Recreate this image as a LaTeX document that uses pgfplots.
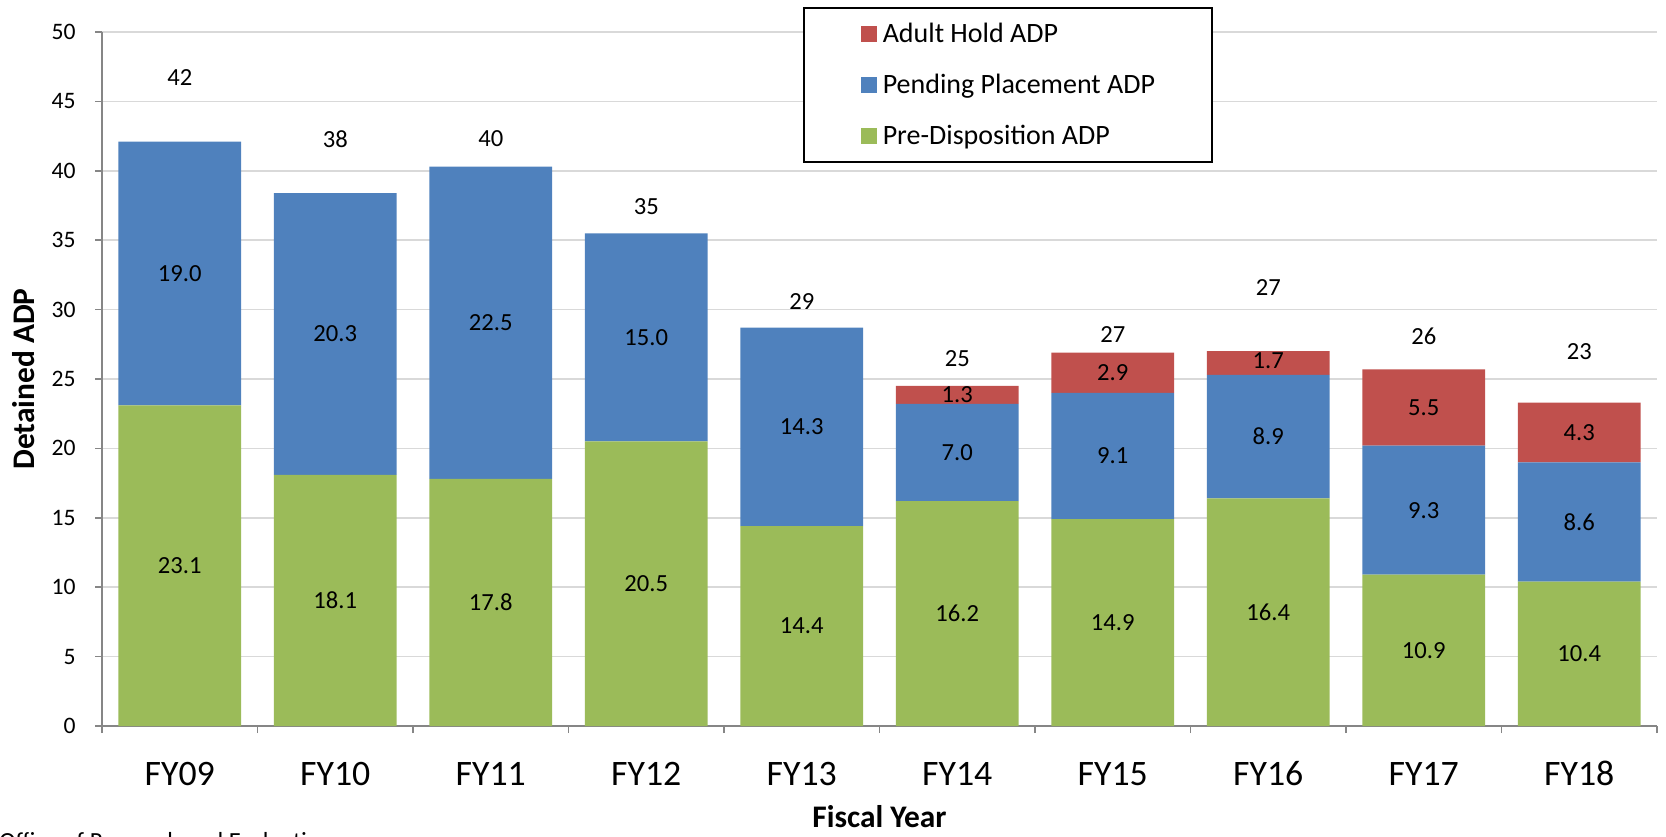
\documentclass[border=0pt]{standalone}
\usepackage{pgfplots}
\pgfplotsset{compat=1.18}
\usepackage{pgfplotstable}
\usepackage{fontspec}
\setmainfont{Carlito}
\definecolor{cgreen}{HTML}{9BBB59}
\definecolor{cblue}{HTML}{4F81BD}
\definecolor{cred}{HTML}{C0504D}
\definecolor{axgray}{HTML}{868686}
\definecolor{grgray}{HTML}{D9D9D9}

\pgfplotstableread{
x pre pend adult
0 23.1 19.0 0
1 18.1 20.3 0
2 17.8 22.5 0
3 20.5 15.0 0
4 14.4 14.3 0
5 16.2 7.0 1.3
6 14.9 9.1 2.9
7 16.4 8.9 1.7
8 10.9 9.3 5.5
9 10.4 8.6 4.3
}\datatable

\pgfplotstableread{
x y lab
0 11.55 23.1
1 9.05 18.1
2 8.9 17.8
3 10.25 20.5
4 7.2 14.4
5 8.1 16.2
6 7.45 14.9
7 8.2 16.4
8 5.45 10.9
9 5.2 10.4
0 32.6 19.0
1 28.25 20.3
2 29.05 22.5
3 28.0 15.0
4 21.55 14.3
5 19.7 7.0
6 19.45 9.1
7 20.85 8.9
8 15.55 9.3
9 14.7 8.6
5 23.85 1.3
6 25.45 2.9
7 26.3 1.7
8 22.95 5.5
9 21.15 4.3
0 46.7 42
1 42.3 38
2 42.3 40
3 37.4 35
4 30.6 29
5 26.5 25
6 28.2 27
7 31.6 27
8 28.1 26
9 27.0 23
}\labtable

\pgfplotsset{
  sq/.style={legend image code/.code={\fill[##1,draw=none] (0pt,-4pt) rectangle (8pt,4pt);}},
}

\begin{document}
\begin{tikzpicture}
\useasboundingbox (0,0) rectangle (833pt,418pt);
\begin{axis}[
  at={(51pt,55pt)}, anchor=south west,
  scale only axis, width=777.5pt, height=347pt,
  ybar stacked, bar width=0.79,
  xmin=-0.5, xmax=9.5, ymin=0, ymax=50,
  axis lines*=left,
  axis line style={draw=axgray, line width=0.75pt},
  ytick={0,5,...,50},
  ymajorgrids, major grid style={draw=grgray, line width=0.75pt},
  tick align=outside,
  major tick length=3.5pt,
  tick style={draw=axgray, line width=0.75pt},
  xtick={-0.5,0.5,...,9.5},
  xticklabels={},
  extra x ticks={0,1,2,3,4,5,6,7,8,9},
  extra x tick labels={FY09,FY10,FY11,FY12,FY13,FY14,FY15,FY16,FY17,FY18},
  extra x tick style={major tick length=0pt, grid=none},
  xticklabel style={font=\fontsize{17.9}{21}\selectfont, anchor=base, yshift=-29.5pt, inner sep=0pt},
  yticklabel style={font=\fontsize{11.8}{14}\selectfont, anchor=east, inner sep=0pt, xshift=-9.5pt},
  /pgf/number format/assume math mode=true,
  xlabel={Fiscal Year},
  xlabel style={font=\fontsize{15.7}{18}\selectfont\bfseries, at={(axis description cs:0.5,0)}, anchor=base, yshift=-50.5pt, inner sep=0pt},
  ylabel={Detained ADP},
  ylabel style={font=\fontsize{15.7}{18}\selectfont\bfseries, at={(axis description cs:0,0.5)}, anchor=center, yshift=39.3pt, inner sep=0pt},
  reverse legend,
  legend cell align=left,
  legend style={at={(axis description cs:0.4508,1.036)}, anchor=north west,
    draw=black, line width=0.75pt, fill=white,
    inner xsep=28.5pt, inner ysep=8.6pt,
    nodes={inner sep=0pt, text height=8.8pt, text depth=0pt, font=\fontsize{14}{16}\selectfont},
    column sep=3pt, row sep=16.7pt},
]
\addplot[fill=cgreen, draw=none, sq] table[x=x, y=pre] {\datatable};
\addlegendentry{Pre-Disposition ADP}
\addplot[fill=cblue, draw=none, sq] table[x=x, y=pend] {\datatable};
\addlegendentry{Pending Placement ADP}
\addplot[fill=cred, draw=none, sq] table[x=x, y=adult] {\datatable};
\addlegendentry{Adult Hold ADP}
\end{axis}
\begin{axis}[
  at={(51pt,55pt)}, anchor=south west,
  scale only axis, width=777.5pt, height=347pt,
  xmin=-0.5, xmax=9.5, ymin=0, ymax=50,
  hide axis, clip=false,
]
\addplot[only marks, mark=none, nodes near coords, point meta=explicit symbolic,
  every node near coord/.style={anchor=center, inner sep=0pt, font=\fontsize{12.3}{14}\selectfont, text=black}]
  table[x=x, y=y, meta=lab] {\labtable};
\end{axis}
\node[anchor=north west, inner sep=0pt, font=\fontsize{12.3}{14}\selectfont] at (-0.5pt,2pt) {Office of Research and Evaluation};
\end{tikzpicture}
\end{document}
